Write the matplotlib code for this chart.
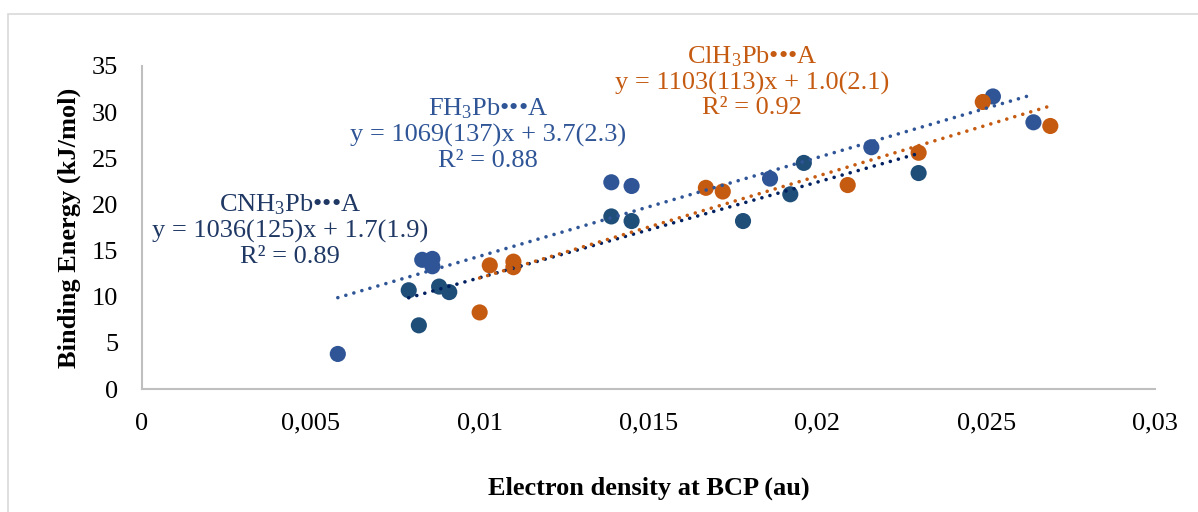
import matplotlib
matplotlib.use("Agg")
import matplotlib.pyplot as plt
from matplotlib.patches import Rectangle
import numpy as np

plt.rcParams['font.family'] = ['Liberation Serif', 'DejaVu Serif']
plt.rcParams['mathtext.fontset'] = 'custom'
plt.rcParams['mathtext.rm'] = 'Liberation Serif'
plt.rcParams['mathtext.it'] = 'Liberation Serif:italic'

# Data: electron density at BCP (au) vs binding energy (kJ/mol)
fh3_x = [0.0058, 0.0083, 0.0086, 0.0086, 0.0139, 0.0145, 0.0186, 0.0216, 0.0252, 0.0264]
fh3_y = [3.8, 14.0, 14.1, 13.3, 22.4, 22.0, 22.8, 26.2, 31.7, 28.9]

cnh3_x = [0.0079, 0.0082, 0.0088, 0.0091, 0.0139, 0.0145, 0.0178, 0.0192, 0.0196, 0.0230]
cnh3_y = [10.7, 6.9, 11.1, 10.5, 18.7, 18.2, 18.2, 21.1, 24.5, 23.4]

clh3_x = [0.0100, 0.0103, 0.0110, 0.0110, 0.0167, 0.0172, 0.0209, 0.0230, 0.0249, 0.0269]
clh3_y = [8.3, 13.4, 13.8, 13.2, 21.8, 21.4, 22.1, 25.6, 31.1, 28.5]

# trendline parameters (slope, intercept) as printed on the chart
fh3_fit = (1069, 3.7)
cnh3_fit = (1036, 1.7)
clh3_fit = (1103, 1.0)

x_ticks = [0, 0.005, 0.01, 0.015, 0.02, 0.025, 0.03]
x_tick_labels = ["0", "0,005", "0,01", "0,015", "0,02", "0,025", "0,03"]
y_ticks = [0, 5, 10, 15, 20, 25, 30, 35]

C_FH3 = "#2F5597"
C_CNH3 = "#1F4E79"
C_CL = "#C55A11"
C_CN_LINE = "#002060"
C_CN_TEXT = "#1F3864"

fig = plt.figure(figsize=(11.98, 5.12), dpi=100)
ax = fig.add_axes([0.1185, 0.2402, 0.8456, 0.6309])

# chart area border (left/top visible)
fig.patches.append(Rectangle((8 / 1198, -0.1), 1.2, (512 - 14) / 512 + 0.1,
                             transform=fig.transFigure, fill=False,
                             edgecolor="#D9D9D9", linewidth=1.2, clip_on=False))

def trend(ax, xs, fit, color):
    xx = np.array([min(xs), max(xs)])
    ax.plot(xx, fit[0] * xx + fit[1], color=color, linewidth=2.6,
            linestyle=(0, (0.01, 2.3)), dash_capstyle="round", zorder=3)

ax.scatter(fh3_x, fh3_y, s=135, color=C_FH3, edgecolors="none", zorder=2)
ax.scatter(cnh3_x, cnh3_y, s=135, color=C_CNH3, edgecolors="none", zorder=2)
ax.scatter(clh3_x, clh3_y, s=135, color=C_CL, edgecolors="none", zorder=2)

trend(ax, fh3_x, fh3_fit, C_FH3)
trend(ax, cnh3_x, cnh3_fit, C_CN_LINE)
trend(ax, clh3_x, clh3_fit, C_CL)

ax.text(0.00438, 17.2, "CNH$_3$Pb•••A\ny = 1036(125)x + 1.7(1.9)\nR² = 0.89",
        color=C_CN_TEXT, fontsize=19, ha="center", va="center", linespacing=1.15)
ax.text(0.01025, 27.6, "FH$_3$Pb•••A\ny = 1069(137)x + 3.7(2.3)\nR² = 0.88",
        color=C_FH3, fontsize=19, ha="center", va="center", linespacing=1.15)
ax.text(0.01807, 33.3, "ClH$_3$Pb•••A\ny = 1103(113)x + 1.0(2.1)\nR² = 0.92",
        color=C_CL, fontsize=19, ha="center", va="center", linespacing=1.15)

ax.set_xlim(0, 0.03)
ax.set_ylim(0, 35)
ax.set_xticks(x_ticks)
ax.set_xticklabels(x_tick_labels)
ax.set_yticks(y_ticks)
ax.tick_params(length=0, labelsize=19, pad=17)

for side in ("top", "right"):
    ax.spines[side].set_visible(False)
for side in ("left", "bottom"):
    ax.spines[side].set_color("#BFBFBF")
    ax.spines[side].set_linewidth(1.5)

ax.set_xlabel("Electron density at BCP (au)", fontsize=19, fontweight="bold", labelpad=30)
ax.set_ylabel("Binding Energy (kJ/mol)", fontsize=19, fontweight="bold", labelpad=8)

fig.savefig("out.png", dpi=100)
